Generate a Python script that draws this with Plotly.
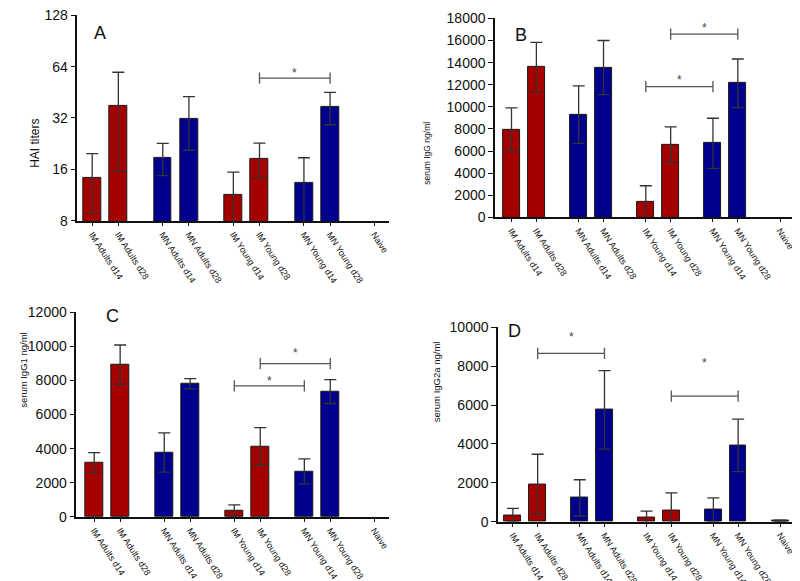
import math
import plotly.graph_objects as go

# the page puts the figure 8 px in from the window corner, so the figure is
# drawn a touch smaller and everything is laid out in reference pixels
REF_W, REF_H = 800, 581
W, H = REF_W - 8, REF_H - 8

# ── Data ──────────────────────────────────────────────────────────────────────
groups = ["IM Adults d14", "IM Adults d28", "MN Adults d14", "MN Adults d28",
          "IM Young d14", "IM Young d28", "MN Young d14", "MN Young d28", "Naive"]
route = ["IM", "IM", "MN", "MN", "IM", "IM", "MN", "MN", "Naive"]

hai_mean = [14.3, 37.5, 18.7, 31.7, 11.4, 18.5, 13.3, 37.2, None]
hai_sd = [5.5, 21.8, 4.0, 11.0, 4.0, 4.3, 5.4, 8.0, 0]

igg_mean = [7950, 13600, 9300, 13550, 1360, 6580, 6700, 12130, None]
igg_sd = [1950, 2240, 2600, 2450, 1500, 1600, 2270, 2200, 0]

igg1_mean = [3170, 8930, 3780, 7810, 380, 4130, 2670, 7350, None]
igg1_sd = [600, 1150, 1150, 300, 330, 1100, 730, 700, 0]

igg2a_mean = [340, 1940, 1230, 5750, 200, 560, 610, 3930, 60]
igg2a_sd = [350, 1530, 930, 2020, 350, 930, 620, 1350, 30]

COLORS = {"IM": "#A50000", "MN": "#00008C", "Naive": "#111111"}
FONT = "Liberation Sans, Arial, sans-serif"

# bar positions: pairs with an extra gap between groups
pos = [i + 0.7 * (i // 2) for i in range(len(groups))]


def fx(p):
    return p / REF_W


def fy(p):
    return 1 - p / REF_H


panels = [
    dict(mean=hai_mean, sd=hai_sd, xd=(70, 385), yd=(7, 216), xr=[-0.57, 11.36],
         log=True, yr=[math.log10(8) - 0.002, math.log10(128) + 0.002],
         tv=[8, 16, 32, 64, 128],
         title="HAI titers", tpos=(18, 110), tsize=12, letter="A", lpos=(85, 13)),
    dict(mean=igg_mean, sd=igg_sd, xd=(492, 800), yd=(10, 212.3), xr=[-0.66, 11.6],
         log=False, yr=[0, 18050], tv=list(range(0, 18001, 2000)),
         title="serum IgG ng/ml", tpos=(423, 113), tsize=8.5, letter="B", lpos=(518, 15)),
    dict(mean=igg1_mean, sd=igg1_sd, xd=(69, 385), yd=(308, 516), xr=[-0.69, 11.37],
         log=False, yr=[0, 12030], tv=list(range(0, 12001, 2000)),
         title="serum IgG1 ng/ml", tpos=(8, 407), tsize=9.5, letter="C", lpos=(97, 312)),
    dict(mean=igg2a_mean, sd=igg2a_sd, xd=(495, 800), yd=(323, 521), xr=[-0.6, 11.6],
         log=False, yr=[0, 10030], tv=list(range(0, 10001, 2000)),
         title="serum IgG2a ng/ml", tpos=(433, 422), tsize=9.5, letter="D", lpos=(512, 328)),
]

# significance brackets: panel, bar i, bar j, level, star offset (px)
brackets = [
    (0, 5, 7, 54.8, 7),
    (1, 5, 7, 16577, 8),
    (1, 4, 6, 11832, 9),
    (2, 5, 7, 8986, 13),
    (2, 4, 6, 7680, 7),
    (3, 1, 3, 8651, 18),
    (3, 5, 7, 6459, 35),
]

fig = go.Figure()
annotations = []

for k, p in enumerate(panels):
    sfx = "" if k == 0 else str(k + 1)
    xa, ya = "x" + sfx, "y" + sfx
    fig.add_trace(go.Bar(
        x=pos, y=p["mean"], width=0.68,
        marker=dict(color=[COLORS[r] for r in route],
                    line=dict(color="#1a1a1a", width=1)),
        error_y=dict(type="data", array=p["sd"], color="#333333",
                     thickness=1.3, width=6),
        xaxis=xa, yaxis=ya, showlegend=False, hoverinfo="skip",
    ))
    fig.layout["xaxis" + sfx] = dict(
        domain=[fx(p["xd"][0]), fx(p["xd"][1])], anchor=ya, range=p["xr"],
        tickvals=pos, ticktext=groups, tickangle=57, automargin=False,
        ticklabeloverflow="allow",
        tickfont=dict(size=9, color="#111", family=FONT),
        ticks="outside", ticklen=3, tickcolor="#111", tickwidth=1.2,
        showline=True, linecolor="#111", linewidth=1.5, showgrid=False, zeroline=False,
    )
    fig.layout["yaxis" + sfx] = dict(
        domain=[fy(p["yd"][1]), fy(p["yd"][0])], anchor=xa, range=p["yr"],
        type="log" if p["log"] else "linear", automargin=False,
        ticklabeloverflow="allow",
        tickvals=p["tv"], tickformat="d",
        tickfont=dict(size=14, color="#111", family=FONT),
        ticks="outside", ticklen=5, tickcolor="#111", tickwidth=1.2,
        showline=True, linecolor="#111", linewidth=1.5, showgrid=False, zeroline=False,
    )
    annotations.append(dict(
        x=fx(p["tpos"][0]), y=fy(p["tpos"][1]), xref="paper", yref="paper",
        text=p["title"], textangle=-90, showarrow=False,
        font=dict(size=p["tsize"], color="#111", family=FONT),
    ))
    annotations.append(dict(
        x=fx(p["lpos"][0]), y=fy(p["lpos"][1]), xref="paper", yref="paper",
        text=p["letter"], showarrow=False,
        font=dict(size=18, color="#111", family=FONT),
    ))

for k, i, j, level, off in brackets:
    p = panels[k]
    sfx = "" if k == 0 else str(k + 1)
    xa, ya = "x" + sfx, "y" + sfx
    fig.add_trace(go.Scatter(
        x=[pos[i], pos[j]], y=[level, level], mode="lines+markers",
        line=dict(color="#555555", width=1.3),
        marker=dict(symbol="line-ns-open", size=8,
                    line=dict(color="#555555", width=1.3)),
        xaxis=xa, yaxis=ya, showlegend=False, hoverinfo="skip",
    ))
    annotations.append(dict(
        x=(pos[i] + pos[j]) / 2, y=math.log10(level) if p["log"] else level,
        xref=xa, yref=ya, text="*", showarrow=False, yshift=off - 2,
        font=dict(size=12, color="#444", family=FONT),
    ))

fig.update_layout(
    width=W, height=H,
    margin=dict(l=0, r=0, t=0, b=0, autoexpand=False),
    paper_bgcolor="white", plot_bgcolor="white",
    annotations=annotations,
    bargap=0,
)

fig.write_html("out.html")
